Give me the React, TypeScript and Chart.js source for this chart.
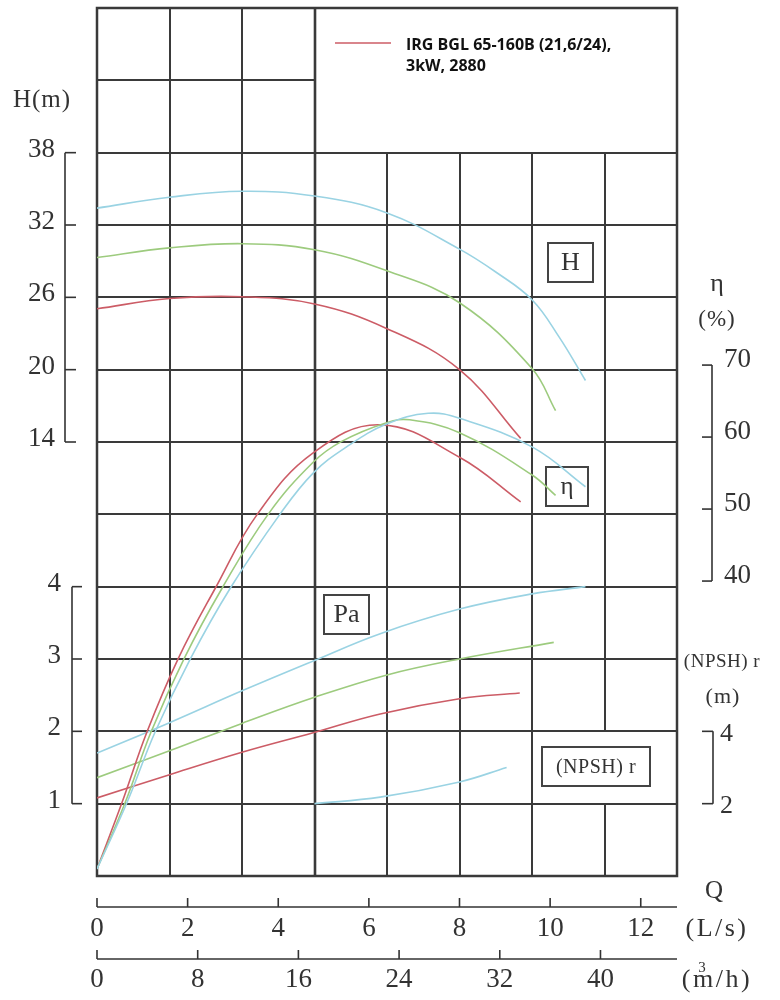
import { useEffect, useRef } from "react";
import { Chart, registerables } from "chart.js";

Chart.register(...registerables);

// ---- Flow (L/s) and readings ----
// Head H (m)
const qHBlue = [0, 1.6, 3.2, 4.8, 6.4, 8.0, 8.8, 9.6, 10.2, 10.78];
const hBlue = [33.4, 34.3, 34.8, 34.4, 33.0, 30.0, 28.1, 25.8, 22.7, 19.1];
const qHGreen = [0, 1.6, 3.2, 4.8, 6.4, 8.0, 9.6, 10.12];
const hGreen = [29.3, 30.1, 30.45, 29.95, 28.2, 25.55, 20.1, 16.6];
const qHRed = [0, 1.6, 3.2, 4.8, 6.4, 8.0, 9.35];
const hRed = [25.05, 25.9, 26.05, 25.45, 23.4, 20.0, 14.3];

// Efficiency η (%)
const qEtaBlue = [0, 0.66, 1.28, 2.06, 2.94, 4.04, 4.77, 5.5, 6.39, 7.31, 8.0, 9.61, 10.78];
const etaBlue = [0, 9.2, 19.0, 29.2, 39.0, 49.3, 55.0, 58.6, 61.8, 63.3, 62.6, 58.6, 53.1];
const qEtaGreen = [0, 0.62, 1.19, 1.92, 2.76, 3.78, 4.77, 5.4, 6.39, 6.9, 8.0, 9.61, 10.12];
const etaGreen = [0, 9.2, 19.0, 29.2, 39.0, 49.3, 56.5, 59.4, 62.0, 62.4, 60.6, 54.7, 51.9];
const qEtaRed = [0, 0.55, 1.1, 1.79, 2.61, 3.54, 4.77, 6.25, 8.0, 9.35];
const etaRed = [0, 9.2, 19.0, 29.2, 39.0, 49.3, 57.8, 61.7, 57.2, 51.0];

// Power Pa (kW)
const qPaBlue = [0, 1.6, 3.2, 4.8, 6.25, 8.0, 9.6, 10.78];
const paBlue = [1.7, 2.12, 2.56, 2.98, 3.35, 3.69, 3.9, 4.0];
const qPaGreen = [0, 1.6, 3.2, 4.8, 6.4, 8.0, 10.08];
const paGreen = [1.36, 1.73, 2.11, 2.47, 2.78, 3.0, 3.23];
const qPaRed = [0, 1.6, 3.2, 4.77, 6.25, 8.0, 9.33];
const paRed = [1.08, 1.4, 1.71, 1.98, 2.24, 2.45, 2.53];

// (NPSH)r (m)
const qNpshBlue = [4.8, 6.25, 8.0, 9.04];
const npshBlue = [2.0, 2.18, 2.6, 3.0];

// ---- Axes / ticks ----
const hTicks = [38, 32, 26, 20, 14];
const paTicks = [4, 3, 2, 1];
const etaTicks = [70, 60, 50, 40];
const npshTicks = [4, 2];
const lsTicks = [0, 2, 4, 6, 8, 10, 12];
const m3hTicks = [0, 8, 16, 24, 32, 40];
const gridQ = [1.6, 3.2, 4.8, 6.4, 8.0, 9.6, 11.2];
const gridH = [44, 38, 32, 26, 20, 14, 8, 2, -4, -10, -16];

const legendLines = ["IRG BGL 65-160B (21,6/24),", "3kW, 2880"];

const RED = "#cc5c66";
const GREEN = "#9dcb7e";
const BLUE = "#9ad3e3";
const INK = "#333333";
const GRID = "#3a3a3a";
const SERIF = '"Liberation Serif", "DejaVu Serif", serif';

const pts = (xs: number[], ys: number[]) => xs.map((x, i) => ({ x, y: ys[i] }));

const ds = (label: string, xs: number[], ys: number[], color: string, axis: string) => ({
  label,
  data: pts(xs, ys),
  yAxisID: axis,
  borderColor: color,
  backgroundColor: color,
  borderWidth: 1.6,
  pointRadius: 0,
  fill: false,
  tension: 0.4,
});

const serifText = (
  ctx: CanvasRenderingContext2D,
  s: string,
  x: number,
  y: number,
  align: CanvasTextAlign,
  size: number,
  spacing = "0px",
  font = SERIF,
  weight = ""
) => {
  ctx.font = `${weight} ${size}px ${font}`.trim();
  (ctx as any).letterSpacing = spacing;
  ctx.textAlign = align;
  ctx.textBaseline = "middle";
  ctx.fillText(s, x, y);
  (ctx as any).letterSpacing = "0px";
};

const decor = {
  id: "pumpDecor",
  beforeDatasetsDraw(chart: any) {
    const ctx: CanvasRenderingContext2D = chart.ctx;
    const xs = chart.scales.x;
    const yH = chart.scales.yH;
    const X = (q: number) => Math.round(xs.getPixelForValue(q));
    const Y = (h: number) => Math.round(yH.getPixelForValue(h));
    ctx.save();
    ctx.strokeStyle = GRID;
    ctx.lineCap = "butt";
    const line = (x1: number, y1: number, x2: number, y2: number, w = 2) => {
      ctx.lineWidth = w;
      ctx.beginPath();
      ctx.moveTo(x1, y1);
      ctx.lineTo(x2, y2);
      ctx.stroke();
    };
    for (const h of gridH) {
      const right = h === 44 ? X(4.8) : X(12.8);
      line(X(0), Y(h), right, Y(h));
    }
    for (const q of gridQ) {
      const top = q <= 4.8 ? Y(50) : Y(38);
      const w = q === 4.8 ? 2.6 : 2;
      if (q === 11.2) {
        line(X(q), top, X(q), Y(-10), w);
        line(X(q), Y(-16), X(q), Y(-22), w);
      } else {
        line(X(q), top, X(q), Y(-22), w);
      }
    }
    ctx.lineWidth = 2.5;
    ctx.strokeRect(X(0), Y(50), X(12.8) - X(0), Y(-22) - Y(50));

    // label boxes (curves are drawn over them)
    const box = (x: number, y: number, w: number, h: number, s: string, size: number, spacing = "0px") => {
      ctx.lineWidth = 2;
      ctx.strokeStyle = "#444";
      ctx.strokeRect(x, y, w, h);
      ctx.fillStyle = INK;
      serifText(ctx, s, x + w / 2, y + h / 2 + 1, "center", size, spacing);
    };
    box(548, 243, 45, 39, "H", 26);
    box(546, 467, 42, 39, "η", 25);
    box(324, 595, 45, 39, "Pa", 26);
    box(542, 747, 108, 39, "(NPSH) r", 20, "0.5px");
    ctx.restore();
  },
  afterDatasetsDraw(chart: any) {
    const ctx: CanvasRenderingContext2D = chart.ctx;
    const xs = chart.scales.x;
    const sH = chart.scales.yH;
    const sE = chart.scales.yEta;
    const sP = chart.scales.yPa;
    const sN = chart.scales.yN;
    const X = (q: number) => xs.getPixelForValue(q);
    ctx.save();
    ctx.strokeStyle = INK;
    ctx.fillStyle = INK;
    ctx.lineWidth = 1.6;
    const line = (x1: number, y1: number, x2: number, y2: number) => {
      ctx.beginPath();
      ctx.moveTo(x1, y1);
      ctx.lineTo(x2, y2);
      ctx.stroke();
    };
    const text = (
      s: string,
      x: number,
      y: number,
      align: CanvasTextAlign,
      size: number,
      spacing = "0px",
      font = SERIF,
      weight = ""
    ) => serifText(ctx, s, x, y, align, size, spacing, font, weight);

    // H axis (left)
    const hx = 65;
    line(hx, sH.getPixelForValue(38), hx, sH.getPixelForValue(14));
    for (const t of hTicks) {
      const y = sH.getPixelForValue(t);
      line(hx, y, hx + 11, y);
      text(String(t), 55, y - 3, "right", 27);
    }
    text("H(m)", 42, 100, "center", 25, "1px");

    // Pa axis (left)
    const px = 72;
    line(px, sP.getPixelForValue(4), px, sP.getPixelForValue(1));
    for (const t of paTicks) {
      const y = sP.getPixelForValue(t);
      line(px, y, px + 10, y);
      text(String(t), 61, y - 3, "right", 27);
    }

    // η axis (right)
    const ex = 712;
    line(ex, sE.getPixelForValue(70), ex, sE.getPixelForValue(40));
    for (const t of etaTicks) {
      const y = sE.getPixelForValue(t);
      line(ex - 10, y, ex, y);
      text(String(t), 724, y - 5, "left", 27);
    }
    text("η", 717, 284, "center", 26);
    text("(%)", 717, 320, "center", 23, "1px");

    // NPSH axis (right)
    const nx = 713;
    line(nx, sN.getPixelForValue(4), nx, sN.getPixelForValue(2));
    for (const t of npshTicks) {
      const y = sN.getPixelForValue(t);
      line(nx - 11, y, nx, y);
      text(String(t), 720, y + 3, "left", 26);
    }
    text("(NPSH) r", 722, 662, "center", 19, "0.5px");
    text("(m)", 723, 697, "center", 22, "1px");

    // Q axes (bottom)
    const lsY = 907;
    const mY = 959;
    line(X(0), lsY, X(12.8), lsY);
    for (const t of lsTicks) {
      line(X(t), lsY, X(t), lsY - 9);
      text(String(t), X(t), 929, "center", 27);
    }
    line(X(0), mY, X(12.8), mY);
    for (const t of m3hTicks) {
      const q = t / 3.6;
      line(X(q), mY, X(q), mY - 9);
      text(String(t), X(q), 980, "center", 27);
    }
    text("Q", 714, 891, "center", 25);
    text("(L/s)", 717, 929, "center", 26, "2.5px");
    text("(m/h)", 717, 980, "center", 26, "2.5px");
    text("3", 702, 968, "center", 15);

    // legend
    ctx.strokeStyle = RED;
    ctx.lineWidth = 1.6;
    line(335, 43, 391, 43);
    ctx.fillStyle = "#111";
    text(legendLines[0], 406, 45, "left", 16, "0px", '"Open Sans", "Noto Sans", sans-serif', "bold");
    text(legendLines[1], 406, 66, "left", 16, "0px", '"Open Sans", "Noto Sans", sans-serif', "bold");
    ctx.restore();
  },
};

export default function App() {
  const ref = useRef<HTMLCanvasElement>(null);
  useEffect(() => {
    const chart = new Chart(ref.current as HTMLCanvasElement, {
      type: "line",
      data: {
        datasets: [
          ds("H blue", qHBlue, hBlue, BLUE, "yH"),
          ds("H green", qHGreen, hGreen, GREEN, "yH"),
          ds("H red", qHRed, hRed, RED, "yH"),
          ds("η blue", qEtaBlue, etaBlue, BLUE, "yEta"),
          ds("η green", qEtaGreen, etaGreen, GREEN, "yEta"),
          ds("η red", qEtaRed, etaRed, RED, "yEta"),
          ds("Pa blue", qPaBlue, paBlue, BLUE, "yPa"),
          ds("Pa green", qPaGreen, paGreen, GREEN, "yPa"),
          ds("Pa red", qPaRed, paRed, RED, "yPa"),
          ds("NPSH blue", qNpshBlue, npshBlue, BLUE, "yN"),
        ] as any,
      },
      options: {
        responsive: false,
        animation: false,
        devicePixelRatio: 1,
        layout: { padding: { left: 97, right: 103, top: 8, bottom: 124 } },
        plugins: { legend: { display: false }, tooltip: { enabled: false } },
        events: [],
        scales: {
          x: { type: "linear", min: 0, max: 12.8, display: false },
          yH: { type: "linear", min: -22, max: 50, display: false },
          yEta: { type: "linear", min: -0.97, max: 119.6, display: false },
          yPa: { type: "linear", min: 0, max: 12, display: false },
          yN: { type: "linear", min: 0, max: 24, display: false },
        },
      } as any,
      plugins: [decor],
    });
    return () => chart.destroy();
  }, []);
  return (
    <div style={{ position: "absolute", left: 0, top: 0, width: 780, height: 1000, background: "#ffffff" }}>
      <canvas ref={ref} width={780} height={1000} style={{ display: "block", width: 780, height: 1000 }} />
    </div>
  );
}
